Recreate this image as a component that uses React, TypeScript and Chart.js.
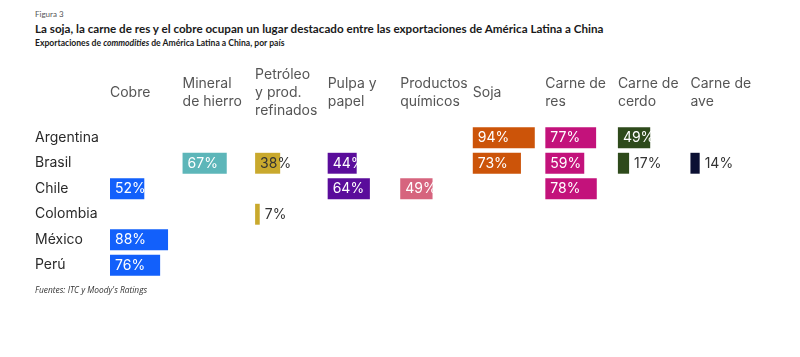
import React, { useEffect, useRef } from "react";
import { Chart, registerables } from "chart.js";

Chart.register(...registerables);

const countries = ["Argentina", "Brasil", "Chile", "Colombia", "México", "Perú"];
const commodityHeaders = [
  ["Cobre"],
  ["Mineral", "de hierro"],
  ["Petróleo", "y prod.", "refinados"],
  ["Pulpa y", "papel"],
  ["Productos", "químicos"],
  ["Soja"],
  ["Carne de", "res"],
  ["Carne de", "cerdo"],
  ["Carne de", "ave"],
];
const cobre = [null, null, 52, null, 88, 76];
const mineralHierro = [null, 67, null, null, null, null];
const petroleo = [null, 38, null, 7, null, null];
const pulpaPapel = [null, 44, 64, null, null, null];
const quimicos = [null, null, 49, null, null, null];
const soja = [94, 73, null, null, null, null];
const carneRes = [77, 59, 78, null, null, null];
const carneCerdo = [49, 17, null, null, null, null];
const carneAve = [null, 14, null, null, null, null];

const seriesValues = [cobre, mineralHierro, petroleo, pulpaPapel, quimicos, soja, carneRes, carneCerdo, carneAve];
const seriesColors = ["#1260fb", "#5db6b9", "#c9a92d", "#5a0c9b", "#d6647e", "#cc5409", "#c3127b", "#2e4a1b", "#0b1033"];
const labelInsideColors = ["#ffffff", "#ffffff", "#333333", "#ffffff", "#ffffff", "#ffffff", "#ffffff", "#ffffff", "#ffffff"];

const COL = 110;
const FONT = "Inter, 'DejaVu Sans', sans-serif";

const headerPlugin = {
  id: "headers",
  afterDraw(chart: any) {
    const ctx = chart.ctx;
    const xs = chart.scales.x;
    ctx.save();
    ctx.font = `14px ${FONT}`;
    ctx.fillStyle = "#555555";
    ctx.textAlign = "left";
    ctx.textBaseline = "middle";
    commodityHeaders.forEach((lines, i) => {
      const x = xs.getPixelForValue(i * COL);
      const lh = 18;
      const y0 = 93 - ((lines.length - 1) * lh) / 2;
      lines.forEach((ln, j) => ctx.fillText(ln, x, y0 + j * lh));
    });
    ctx.restore();
  },
};

const valueLabelPlugin = {
  id: "valueLabels",
  afterDatasetsDraw(chart: any) {
    const ctx = chart.ctx;
    ctx.save();
    ctx.font = `14px ${FONT}`;
    ctx.textBaseline = "middle";
    ctx.textAlign = "left";
    chart.data.datasets.forEach((ds: any, di: number) => {
      const meta = chart.getDatasetMeta(di);
      meta.data.forEach((el: any, idx: number) => {
        const v = seriesValues[di][idx];
        if (v === null || v === undefined) return;
        const p = el.getProps(["x", "y", "base"], true);
        const start = Math.min(p.x, p.base);
        const end = Math.max(p.x, p.base);
        const txt = `${v}%`;
        if (v < 20) {
          ctx.fillStyle = "#333333";
          ctx.fillText(txt, end + 5, p.y + 0.5);
        } else {
          ctx.fillStyle = labelInsideColors[di];
          ctx.fillText(txt, start + 5, p.y + 0.5);
        }
      });
    });
    ctx.restore();
  },
};

function App() {
  const ref = useRef<HTMLCanvasElement | null>(null);
  useEffect(() => {
    if (!ref.current) return;
    const datasets = seriesValues.map((vals, i) => ({
      label: commodityHeaders[i].join(" "),
      data: vals.map((v) => (v === null ? null : [i * COL, i * COL + v])),
      backgroundColor: seriesColors[i],
      borderWidth: 0,
      grouped: false,
      barPercentage: 0.82,
      categoryPercentage: 1,
    }));
    const chart = new Chart(ref.current, {
      type: "bar",
      data: { labels: countries, datasets: datasets as any },
      options: {
        animation: false,
        responsive: true,
        maintainAspectRatio: false,
        indexAxis: "y",
        layout: { padding: { left: 35, right: 37, top: 125, bottom: 79 } },
        plugins: { legend: { display: false }, tooltip: { enabled: false }, title: { display: false } },
        scales: {
          x: { display: false, min: 0, max: 9 * COL },
          y: {
            grid: { display: false },
            border: { display: false },
            afterFit: (scale: any) => {
              scale.width = 75;
            },
            ticks: {
              crossAlign: "far",
              color: "#2a2a2a",
              font: { family: FONT, size: 14 },
            },
          },
        },
      } as any,
      plugins: [headerPlugin, valueLabelPlugin],
    });
    return () => chart.destroy();
  }, []);

  const textFont = "Lato, 'Open Sans', sans-serif";
  return (
    <div style={{ position: "fixed", left: 0, top: 0, width: 800, height: 357, background: "#fff" }}>
      <div style={{ position: "absolute", left: 35, top: 9, fontFamily: textFont, fontSize: 8, color: "#555", whiteSpace: "nowrap" }}>
        Figura 3
      </div>
      <div style={{ position: "absolute", left: 35, top: 22, fontFamily: textFont, fontSize: 11.65, fontWeight: 700, color: "#1a1a1a", whiteSpace: "nowrap" }}>
        La soja, la carne de res y el cobre ocupan un lugar destacado entre las exportaciones de América Latina a China
      </div>
      <div style={{ position: "absolute", left: 35, top: 38, fontFamily: textFont, fontSize: 8.6, fontWeight: 700, color: "#1a1a1a", whiteSpace: "nowrap" }}>
        Exportaciones de <i>commodities</i> de América Latina a China, por país
      </div>
      <div style={{ position: "absolute", left: 0, top: 0, width: 800, height: 357 }}>
        <canvas ref={ref} />
      </div>
      <div style={{ position: "absolute", left: 35, top: 284, fontFamily: "'Open Sans', sans-serif", fontSize: 8.4, fontStyle: "italic", color: "#333", whiteSpace: "nowrap" }}>
        Fuentes: ITC y Moody's Ratings
      </div>
    </div>
  );
}

export default App;
